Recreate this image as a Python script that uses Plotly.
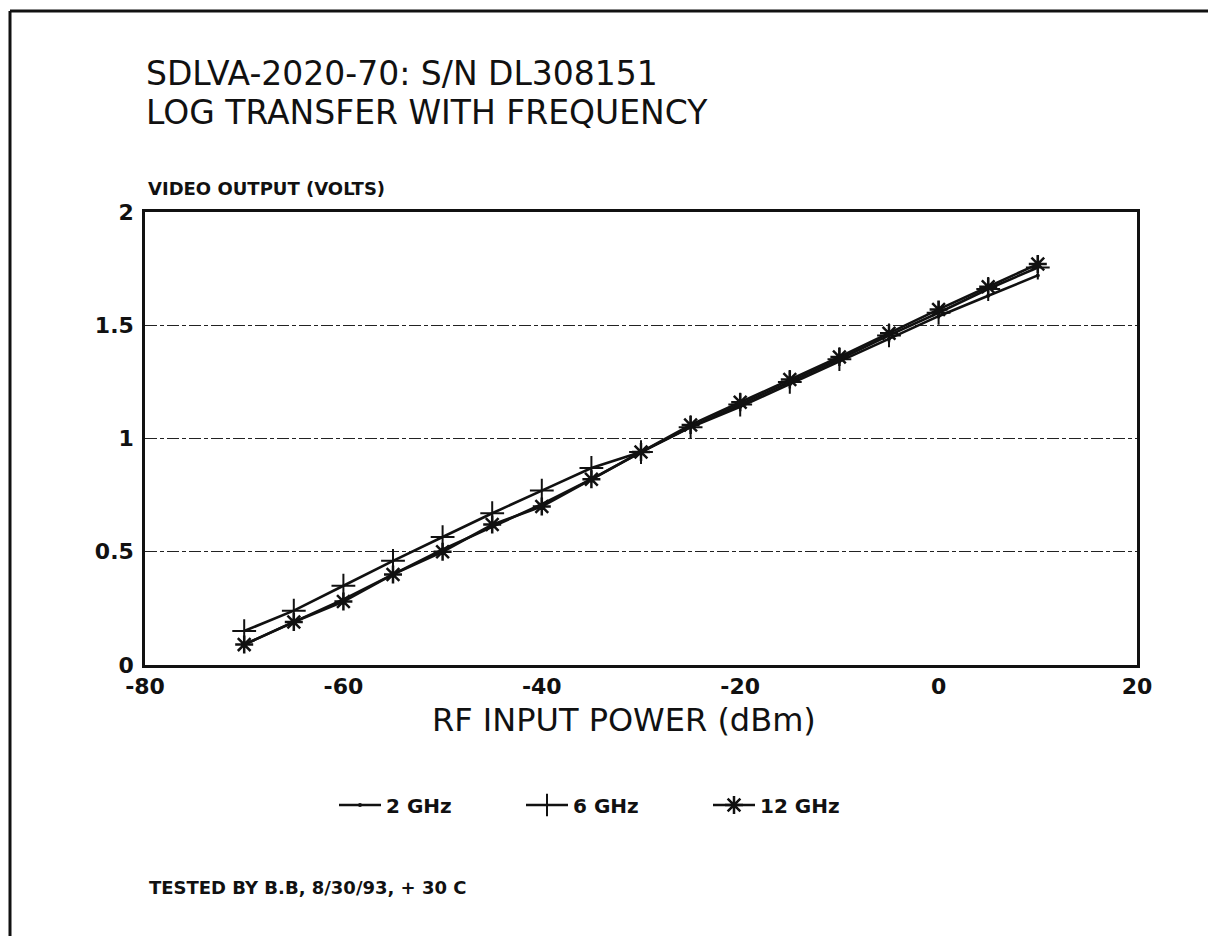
import plotly.graph_objects as go

# ---- data ----
rf_power_dbm = [-70, -65, -60, -55, -50, -45, -40, -35, -30, -25, -20, -15, -10, -5, 0, 5, 10]
v_2ghz  = [0.09, 0.19, 0.29, 0.40, 0.51, 0.61, 0.71, 0.82, 0.94, 1.05, 1.14, 1.24, 1.34, 1.44, 1.54, 1.63, 1.72]
v_6ghz  = [0.15, 0.24, 0.35, 0.46, 0.565, 0.67, 0.77, 0.87, 0.94, 1.05, 1.15, 1.25, 1.35, 1.455, 1.555, 1.66, 1.755]
v_12ghz = [0.09, 0.19, 0.28, 0.40, 0.50, 0.62, 0.70, 0.82, 0.94, 1.06, 1.16, 1.26, 1.36, 1.465, 1.57, 1.67, 1.77]
series_names = ["2 GHz", "6 GHz", "12 GHz"]
x_ticks = [-80, -60, -40, -20, 0, 20]
y_ticks = [0, 0.5, 1, 1.5, 2]
y_tick_text = ["0", "0.5", "1", "1.5", "2"]
title_lines = ["SDLVA-2020-70: S/N DL308151", "LOG TRANSFER WITH FREQUENCY"]

FONT = "DejaVu Sans, Verdana, sans-serif"
INK = "#111111"

# page offset (browser body margin)
OFF = 8
# plot box in page pixels
L, R, T, B = 145, 1137, 212, 665
PAGE_W, PAGE_H = 1216, 938
W, H = PAGE_W - OFF, PAGE_H - OFF
PW, PH = R - L, B - T

def px(xp):
    return (xp - L) / PW

def py(yp):
    return (B - yp) / PH

fig = go.Figure()
fig.add_trace(go.Scatter(
    x=rf_power_dbm, y=v_2ghz, name=series_names[0], mode="lines+markers",
    line=dict(color=INK, width=2.6),
    marker=dict(symbol="circle", size=4, color=INK)))
fig.add_trace(go.Scatter(
    x=rf_power_dbm, y=v_6ghz, name=series_names[1], mode="lines+markers",
    line=dict(color=INK, width=2.6),
    marker=dict(symbol="cross-thin-open", size=17, line=dict(color=INK, width=2))))
fig.add_trace(go.Scatter(
    x=rf_power_dbm, y=v_12ghz, name=series_names[2], mode="lines+markers",
    line=dict(color=INK, width=2.6),
    marker=dict(symbol="asterisk-open", size=15, line=dict(color=INK, width=2.5))))

fig.update_layout(
    width=W, height=H,
    margin=dict(l=L - OFF, r=PAGE_W - R, t=T - OFF, b=PAGE_H - B),
    paper_bgcolor="white", plot_bgcolor="white",
    font=dict(family=FONT, color=INK),
    showlegend=True,
    legend=dict(orientation="h", x=px(334), xanchor="left", y=py(805), yanchor="middle",
                font=dict(size=20, family=FONT, color=INK, weight="bold"),
                itemwidth=42, bgcolor="rgba(0,0,0,0)",
                entrywidth=130, entrywidthmode="pixels"),
    xaxis=dict(range=[-80, 20], tickvals=x_ticks, ticktext=[str(v) for v in x_ticks],
               showgrid=False, zeroline=False, showline=True, mirror=True,
               linecolor=INK, linewidth=2.5, ticks="",
               tickfont=dict(size=22, family=FONT, color=INK, weight="bold"),
               ticklabelstandoff=0),
    yaxis=dict(range=[0, 2], tickvals=y_ticks, ticktext=y_tick_text,
               showgrid=True, gridcolor="#222222", griddash="12px,3px,4px,3px", gridwidth=1.4,
               zeroline=False, showline=True, mirror=True,
               linecolor=INK, linewidth=2.5, ticks="",
               tickfont=dict(size=22, family=FONT, color=INK, weight="bold"),
               ticklabelstandoff=4),
)

# two-line title: glyphs at 33px, line pitch driven by the 30px base size
title_html = "<br>".join('<span style="font-size:33px">%s</span>' % t for t in title_lines)
fig.add_annotation(text=title_html, xref="paper", yref="paper",
                   x=px(144), y=py(93), xanchor="left", yanchor="middle", align="left",
                   showarrow=False, font=dict(size=30, family=FONT, color=INK))

annotations = [
    dict(text="VIDEO OUTPUT (VOLTS)", x=px(146), y=py(189), size=18, bold=True),
    dict(text="TESTED BY B.B, 8/30/93, + 30 C", x=px(147), y=py(887), size=18, bold=True),
]
for a in annotations:
    fig.add_annotation(text=a["text"], xref="paper", yref="paper", x=a["x"], y=a["y"],
                       xanchor="left", yanchor="middle", showarrow=False,
                       font=dict(size=a["size"], family=FONT, color=INK,
                                 weight="bold" if a["bold"] else "normal"))
fig.add_annotation(text="RF INPUT POWER (dBm)", xref="paper", yref="paper",
                   x=px(624), y=py(720), xanchor="center", yanchor="middle", showarrow=False,
                   font=dict(size=32, family=FONT, color=INK))

# page frame (scanned border)
fig.add_shape(type="line", xref="paper", yref="paper", x0=px(10), x1=px(10), y0=py(11), y1=py(936),
              line=dict(color=INK, width=3))
fig.add_shape(type="line", xref="paper", yref="paper", x0=px(10), x1=px(1216), y0=py(11), y1=py(11),
              line=dict(color=INK, width=3))

fig.write_html("out.html")
